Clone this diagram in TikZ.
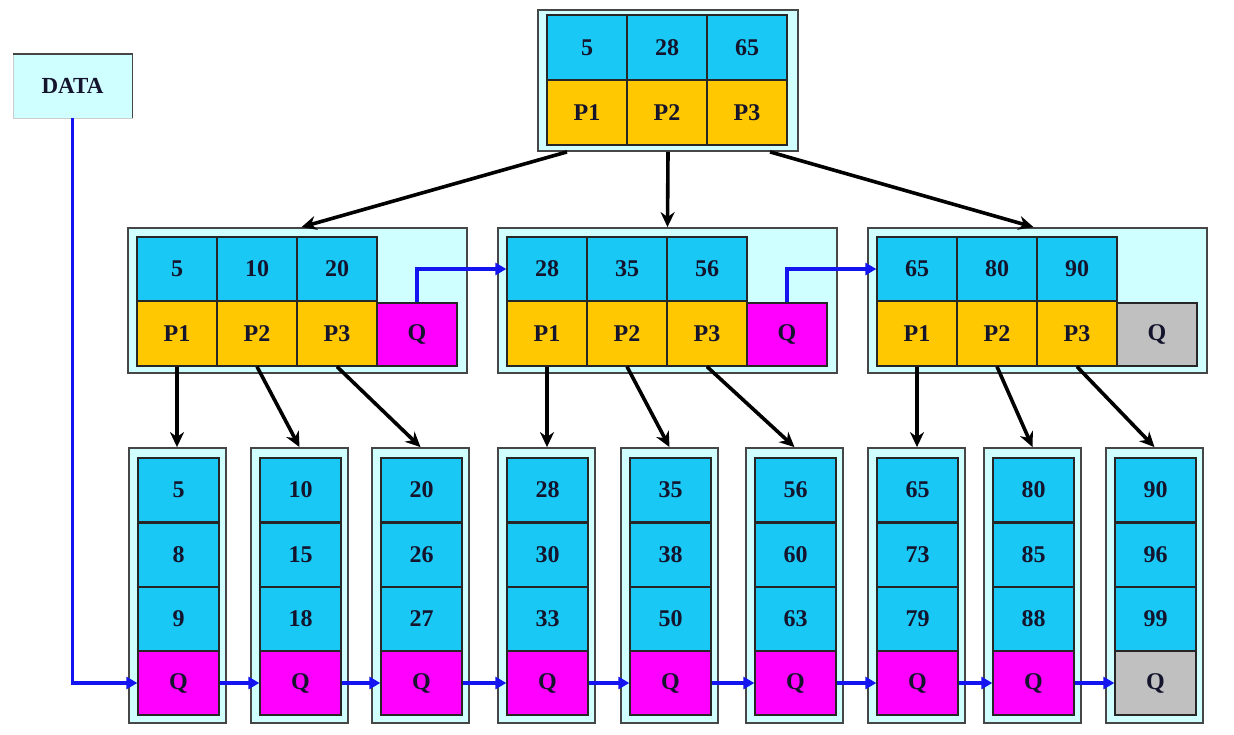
\documentclass[tikz,border=0pt]{standalone}
\usepackage{fontspec}
\setmainfont{Liberation Serif}
\usetikzlibrary{arrows.meta,calc}
\definecolor{cellblue}{RGB}{25,200,245}
\definecolor{cellyellow}{RGB}{255,200,0}
\definecolor{cellmag}{RGB}{255,0,255}
\definecolor{cellgray}{RGB}{192,192,192}
\definecolor{framefill}{RGB}{208,255,255}
\definecolor{framedraw}{RGB}{70,70,70}
\definecolor{txt}{RGB}{20,20,45}
\definecolor{linkblue}{RGB}{20,20,240}
\begin{document}
\begin{tikzpicture}[x=1pt,y=-1pt,
 cell/.style={draw=black!85, line width=1.3pt, inner sep=0pt, minimum width=80pt, minimum height=64pt, font=\fontsize{24}{26}\selectfont\bfseries, text=txt, anchor=center},
 keycell/.style={cell, fill=cellblue},
 ptrcell/.style={cell, fill=cellyellow},
 qcell/.style={cell, fill=cellmag},
 qnull/.style={cell, fill=cellgray},
 framebox/.style={draw=framedraw, line width=1.8pt, fill=framefill, inner sep=0pt},
 childarrow/.style={line width=3.6pt, -{Stealth[length=15pt,width=14pt]}},
 linkarrow/.style={linkblue, line width=3.6pt, -{Triangle[length=11pt,width=12pt]}},
]
\useasboundingbox[fill=white] (0,0) rectangle (1234,734);

% DATA box
\node[minimum width=119pt, minimum height=64pt, fill=framefill, draw=gray!40, line width=0.8pt,
      inner sep=0pt, font=\fontsize{23}{25}\selectfont\bfseries, text=txt] (data) at (72.5,86) {DATA};
\draw[framedraw, line width=1.8pt] (data.north west) -- (data.north east) -- (data.south east);

% root
\node[framebox, minimum width=260pt, minimum height=141pt] (tf) at (668,80.5) {};
\node[keycell, minimum height=65pt] (t-a) at (587,47.5) {5};
\node[keycell, minimum height=65pt] (t-b) at (667,47.5) {28};
\node[keycell, minimum height=65pt] (t-c) at (747,47.5) {65};
\node[ptrcell, minimum height=65pt] (t-p1) at (587,112.5) {P1};
\node[ptrcell, minimum height=65pt] (t-p2) at (667,112.5) {P2};
\node[ptrcell, minimum height=65pt] (t-p3) at (747,112.5) {P3};

% middle level
\foreach \k/\L/\a/\b/\c/\qs in {1/137/5/10/20/qcell, 2/507/28/35/56/qcell, 3/877/65/80/90/qnull}{
  \node[framebox, minimum width=339pt, minimum height=145pt] (m\k f) at (\L+160.5,300.5) {};
  \node[keycell] (m\k-a) at (\L+40,269) {\a};
  \node[keycell] (m\k-b) at (\L+120,269) {\b};
  \node[keycell] (m\k-c) at (\L+200,269) {\c};
  \node[ptrcell, minimum height=65pt] (m\k-p1) at (\L+40,333.5) {P1};
  \node[ptrcell, minimum height=65pt] (m\k-p2) at (\L+120,333.5) {P2};
  \node[ptrcell, minimum height=65pt] (m\k-p3) at (\L+200,333.5) {P3};
  \node[\qs, minimum height=63pt] (m\k-q) at (\L+280,334.5) {Q};
}

% leaves
\foreach \i/\x/\a/\b/\c/\qs in {1/138/5/8/9/qcell, 2/260/10/15/18/qcell, 3/381/20/26/27/qcell,
  4/507/28/30/33/qcell, 5/630/35/38/50/qcell, 6/755/56/60/63/qcell, 7/877/65/73/79/qcell,
  8/993/80/85/88/qcell, 9/1115/90/96/99/qnull}{
  \node[framebox, minimum width=97pt, minimum height=275pt] (lf\i) at (\x+39.5,585.5) {};
  \node[keycell, minimum width=81pt] (l\i-a) at (\x+40.5,490) {\a};
  \node[keycell, minimum width=81pt, minimum height=65pt] (l\i-b) at (\x+40.5,554.5) {\b};
  \node[keycell, minimum width=81pt] (l\i-c) at (\x+40.5,619) {\c};
  \node[\qs, minimum width=81pt] (l\i-q) at (\x+40.5,683) {Q};
  \draw[line width=2.8pt, black!85] (l\i-a.south west) -- (l\i-a.south east);
}

% child pointers
\draw[childarrow] ([xshift=-101pt]tf.south) -- ([xshift=4pt]m1f.north);
\draw[childarrow] (tf.south) -- (m2f.north);
\draw[childarrow] ([xshift=102pt]tf.south) -- ([xshift=-4pt]m3f.north);
\foreach \k/\p/\l in {1/p2/2, 1/p3/3, 2/p2/5, 2/p3/6, 3/p2/8, 3/p3/9}{
  \draw[childarrow] (m\k-\p.south) -- (lf\l.north);
}
\foreach \k/\l in {1/1, 2/4, 3/7}{
  \draw[childarrow] (m\k-p1.south) -- (m\k-p1.south |- lf\l.north);
}

% sibling links
\draw[linkarrow] (m1-q.north) |- (m2-a.west);
\draw[linkarrow] (m2-q.north) |- (m3-a.west);
\draw[linkarrow] (data.south) |- (l1-q.west);
\foreach \i/\j in {1/2, 2/3, 3/4, 4/5, 5/6, 6/7, 7/8, 8/9}{
  \draw[linkarrow] (l\i-q.east) -- (l\j-q.west);
}
\end{tikzpicture}
\end{document}
